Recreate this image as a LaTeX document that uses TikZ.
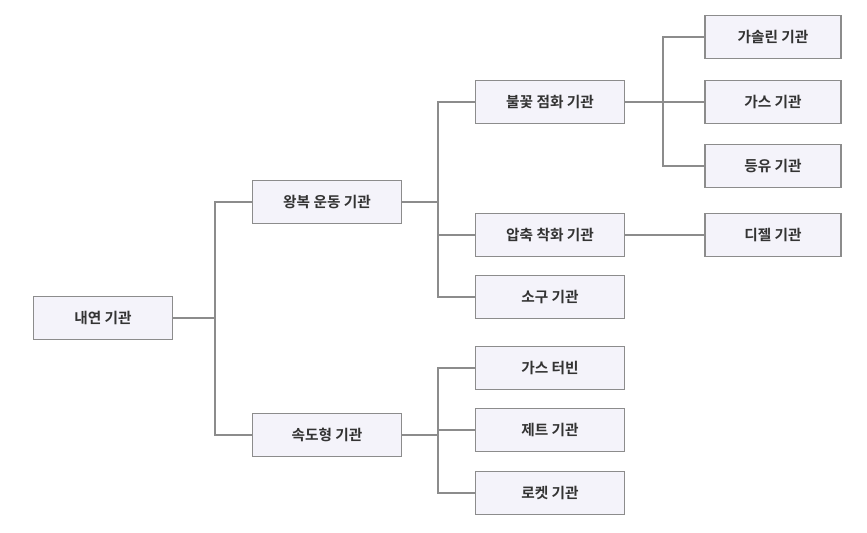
\documentclass[tikz,border=0pt]{standalone}
\usepackage{fontspec}
\setmainfont{Noto Sans CJK KR}[BoldFont={Noto Sans CJK KR Bold}]
\begin{document}
\begin{tikzpicture}[x=0.75pt,y=-0.75pt,
  box/.style={draw=black!45,line width=1.2pt,fill=cyan!8!blue!4!white,minimum height=32pt,inner sep=0pt,font=\fontsize{11}{13}\selectfont\bfseries,text=black!80},
  wA/.style={minimum width=104pt},
  wB/.style={minimum width=112pt},
  wC/.style={minimum width=102pt},
  ln/.style={draw=black!45,line width=1.2pt}]
\useasboundingbox (0,0) rectangle (867,532);
\node[box,wA] (a) at (103,318) {내연 기관};
\node[box,wB] (b1) at (327,202) {왕복 운동 기관};
\node[box,wB] (b2) at (327,435) {속도형 기관};
\node[box,wB] (c1) at (550,102) {불꽃 점화 기관};
\node[box,wB] (c2) at (550,235) {압축 착화 기관};
\node[box,wB] (c3) at (550,297) {소구 기관};
\node[box,wB] (c4) at (550,368) {가스 터빈};
\node[box,wB] (c5) at (550,430) {제트 기관};
\node[box,wB] (c6) at (550,493) {로켓 기관};
\node[box,wC] (d1) at (773,37) {가솔린 기관};
\node[box,wC] (d2) at (773,102) {가스 기관};
\node[box,wC] (d3) at (773,166) {등유 기관};
\node[box,wC] (d4) at (773,235) {디젤 기관};
\coordinate (t1) at (215,318);
\coordinate (t2) at (438,202);
\coordinate (t3) at (438,435);
\coordinate (t4) at (663,102);
\draw[ln] (a.east) -- (t1);
\draw[ln] (b1.west) -| (t1) |- (b2.west);
\draw[ln] (b1.east) -- (t2);
\draw[ln] (c1.west) -| (t2) |- (c3.west);
\draw[ln] (t2 |- c2) -- (c2.west);
\draw[ln] (b2.east) -- (t3);
\draw[ln] (c4.west) -| (t3) |- (c6.west);
\draw[ln] (t3 |- c5) -- (c5.west);
\draw[ln] (c1.east) -- (t4);
\draw[ln] (d1.west) -| (t4) |- (d3.west);
\draw[ln] (t4) -- (d2.west);
\draw[ln] (c2.east) -- (d4.west);
\end{tikzpicture}
\end{document}
